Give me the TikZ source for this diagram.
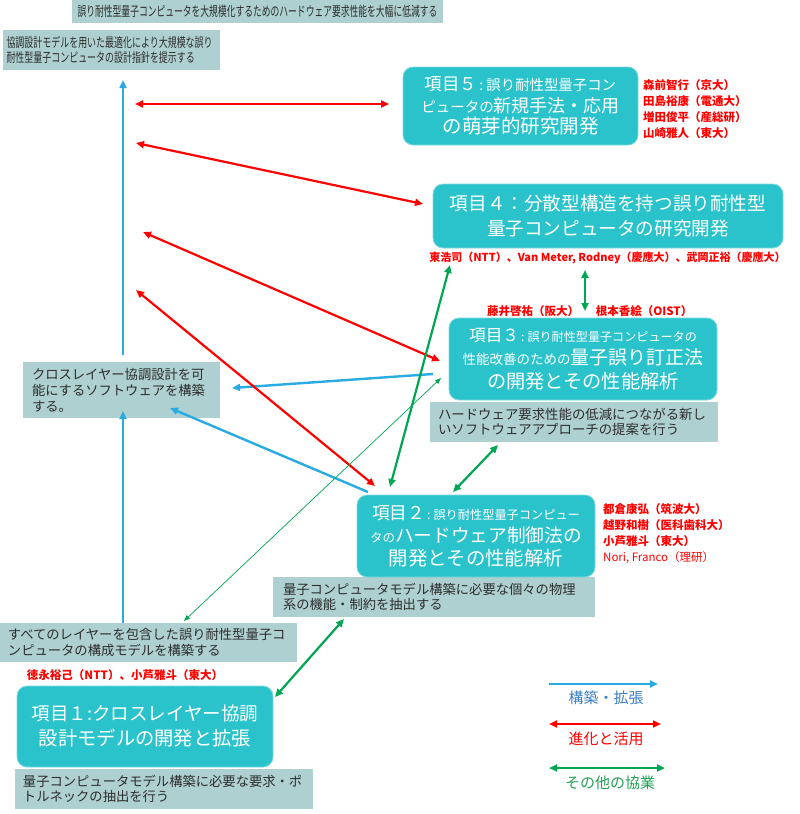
\documentclass[tikz,border=0pt]{standalone}
\usepackage{fontspec}
\setmainfont{Noto Sans CJK JP}
\newfontfamily\jpc[FakeStretch=0.65]{Noto Sans CJK JP}
\newfontfamily\jpd[FakeStretch=0.69]{Noto Sans CJK JP}
\usetikzlibrary{arrows.meta}
\definecolor{teal1}{RGB}{43,195,203}
\definecolor{tealedge}{RGB}{125,217,223}
\definecolor{grey1}{RGB}{174,208,208}
\definecolor{blu}{RGB}{41,171,226}
\definecolor{grn}{RGB}{0,166,81}
\definecolor{lblu}{RGB}{58,125,195}
\definecolor{lgrn}{RGB}{33,160,82}
\definecolor{txt}{RGB}{45,45,45}
\newcommand\fz[2]{\fontsize{#1}{#2}\selectfont}
\newcommand\kcolon{\hspace{2pt}:\hspace{3pt}}
\begin{document}
\begin{tikzpicture}[x=1pt,y=-1pt,
  gb/.style n args={3}{fill=grey1, draw=none, text=txt, inner xsep=#3, inner ysep=0pt,
     text width=#1, minimum height=#2, align=left, font=\fz{13.3}{15.5}},
  tb/.style n args={2}{fill=teal1, draw=tealedge, line width=0.8pt, rounded corners=10pt,
     text=white, inner sep=0pt, minimum width=#1, minimum height=#2, align=center},
  nm/.style={text=red, inner sep=0pt, font=\bfseries\fz{11.5}{16}, align=left},
  bl/.style={draw=blu, line width=2.4pt, -{Triangle[length=8pt,width=7pt]}},
  rd/.style={draw=red, line width=2.2pt, {Triangle[length=8pt,width=7pt]}-{Triangle[length=8pt,width=7pt]}},
  gr/.style={draw=grn, line width=2.2pt, {Triangle[length=8pt,width=7pt]}-{Triangle[length=8pt,width=7pt]}},
  grthin/.style={draw=grn, line width=0.7pt, {Triangle[length=6pt,width=4.5pt]}-{Triangle[length=6pt,width=4.5pt]}},
  lg/.style={inner sep=0pt, font=\fz{15}{18}}
]
\useasboundingbox (0,0) rectangle (800,814);

% grey description boxes
\node[fill=grey1, text=txt, inner sep=0pt, minimum width=371pt, minimum height=23pt, font=\jpc\fz{13.5}{15}] (goal) at (257.5,11.5) {誤り耐性型量子コンピュータを大規模化するためのハードウェア要求性能を大幅に低減する};
\node[gb={210pt}{40pt}{3.5pt}, font=\jpd\fz{13}{15.5}] (design) at (111.5,50) {協調設計モデルを用いた最適化により大規模な誤り\\耐性型量子コンピュータの設計指針を提示する};
\node[gb={179pt}{56pt}{9pt}, font=\fz{13.3}{16}] (soft) at (121.5,390) {クロスレイヤー協調設計を可\\能にするソフトウェアを構築\\する。};
\node[gb={272pt}{40pt}{8pt}, font=\fz{13.4}{14.5}] (d3) at (574,422) {ハードウェア要求性能の低減につながる新し\\いソフトウェアアプローチの提案を行う};
\node[gb={302pt}{40pt}{10pt}] (d2) at (434,597) {量子コンピュータモデル構築に必要な個々の物理\\系の機能・制約を抽出する};
\node[gb={281pt}{39pt}{8pt}] (model) at (148.5,642.5) {すべてのレイヤーを包含した誤り耐性型量子コ\\ンピュータの構成モデルを構築する};
\node[gb={282pt}{40pt}{8pt}] (d1) at (164,789) {量子コンピュータモデル構築に必要な要求・ポ\\トルネックの抽出を行う};

% teal project boxes
\node[tb={235pt}{78pt}, font=\fz{18}{21.5}] (p5) at (520.5,106)
 {{\fz{17.5}{21.5}項目５}{\fz{14.4}{21.5}\kcolon 誤り耐性型量子コン}\\{\fz{14.5}{21.5}ピュータの}{\fz{18}{21.5}新規手法・応用}\\{\fz{19.5}{21.5}の萌芽的研究開発}};
\node[tb={350pt}{64pt}, font=\fz{18.6}{25}] (p4) at (608,216)
 {項目４：分散型構造を持つ誤り耐性型\\量子コンピュータの研究開発};
\node[tb={268pt}{82pt}, font=\fz{19}{23.5}] (p3) at (583,359)
 {{\fz{16.7}{23.5}項目３}{\fz{12.1}{23.5}\kcolon 誤り耐性型量子コンピュータの}\\{\fz{13.5}{23.5}性能改善のための}{\fz{19}{23.5}量子誤り訂正法}\\{\fz{19.2}{23.5}の開発とその性能解析}};
\node[tb={238pt}{82pt}, font=\fz{19}{23}] (p2) at (476,536)
 {{\fz{17.7}{23}項目２}{\fz{12.2}{23}\kcolon 誤り耐性型量子コンピュー}\\{\fz{12.5}{23}タの}{\fz{18.7}{23}ハードウェア制御法の}\\{\fz{19.4}{23}開発とその性能解析}};
\node[tb={256pt}{81pt}, font=\fz{18.5}{25}] (p1) at (145,726.5)
 {項目１:クロスレイヤー協調\\{\fz{19.3}{25}設計モデルの開発と拡張}};

% names
\node[nm, anchor=west] (n5) at (643,109) {森前智行（京大）\\田島裕康（電通大）\\増田俊平（産総研）\\山崎雅人（東大）};
\node[nm, font=\bfseries\fz{11}{16}] (n4) at (607.5,258) {東浩司（NTT）、Van Meter, Rodney（慶應大）、武岡正裕（慶應大）};
\node[nm] (n3a) at (533,311) {藤井啓祐（阪大）};
\node[nm] (n3b) at (644,311) {根本香絵（OIST）};
\node[nm, anchor=west] (n2) at (603,534) {都倉康弘（筑波大）\\越野和樹（医科歯科大）\\小芦雅斗（東大）\\{\mdseries Nori, Franco（理研）}};
\node[nm] (n1) at (125,675) {徳永裕己（NTT）、小芦雅斗（東大）};

% arrow end points
\coordinate (b1s) at (123,355); \coordinate (b1e) at (123,80);
\coordinate (b2s) at (123,623); \coordinate (b2e) at (123,411);
\coordinate (b3s) at (433,374); \coordinate (b3e) at (232,388);
\coordinate (b4s) at (368,492); \coordinate (b4e) at (170,408);
\coordinate (r1a) at (135,104); \coordinate (r1b) at (389,104);
\coordinate (r2a) at (136,143); \coordinate (r2b) at (423,204);
\coordinate (r3a) at (143,232); \coordinate (r3b) at (440,361);
\coordinate (r4a) at (136,290); \coordinate (r4b) at (375,486);
\coordinate (g1a) at (390,487); \coordinate (g1b) at (450,265);
\coordinate (g2a) at (585,270); \coordinate (g2b) at (585,311);
\coordinate (g3a) at (453,492); \coordinate (g3b) at (498,445);
\coordinate (g4a) at (441,378); \coordinate (g4b) at (184,621);
\coordinate (g5a) at (275,697); \coordinate (g5b) at (344,619);

% connectors
\draw[bl] (b1s) -- (b1e);
\draw[bl] (b2s) -- (b2e);
\draw[bl] (b3s) -- (b3e);
\draw[bl] (b4s) -- (b4e);
\draw[rd] (r1a) -- (r1b);
\draw[rd] (r2a) -- (r2b);
\draw[rd] (r3a) -- (r3b);
\draw[rd] (r4a) -- (r4b);
\draw[gr] (g1a) -- (g1b);
\draw[gr] (g2a) -- (g2b);
\draw[gr] (g3a) -- (g3b);
\draw[grthin] (g4a) -- (g4b);
\draw[gr] (g5a) -- (g5b);

% legend
\coordinate (lb1) at (549,684); \coordinate (lb2) at (658,684);
\coordinate (lr1) at (549,724); \coordinate (lr2) at (661,724);
\coordinate (lg1) at (549,768); \coordinate (lg2) at (665,768);
\draw[draw=blu, line width=2pt, -{Triangle[length=8pt,width=7pt]}] (lb1) -- (lb2);
\draw[draw=red, line width=2pt, {Triangle[length=8pt,width=7pt]}-{Triangle[length=8pt,width=7pt]}] (lr1) -- (lr2);
\draw[draw=grn, line width=2pt, {Triangle[length=8pt,width=7pt]}-{Triangle[length=8pt,width=7pt]}] (lg1) -- (lg2);
\node[lg, text=lblu] (lbt) at (606,698) {構築・拡張};
\node[lg, text=red] (lrt) at (606,739) {進化と活用};
\node[lg, text=lgrn] (lgt) at (610,783) {その他の協業};
\end{tikzpicture}
\end{document}
